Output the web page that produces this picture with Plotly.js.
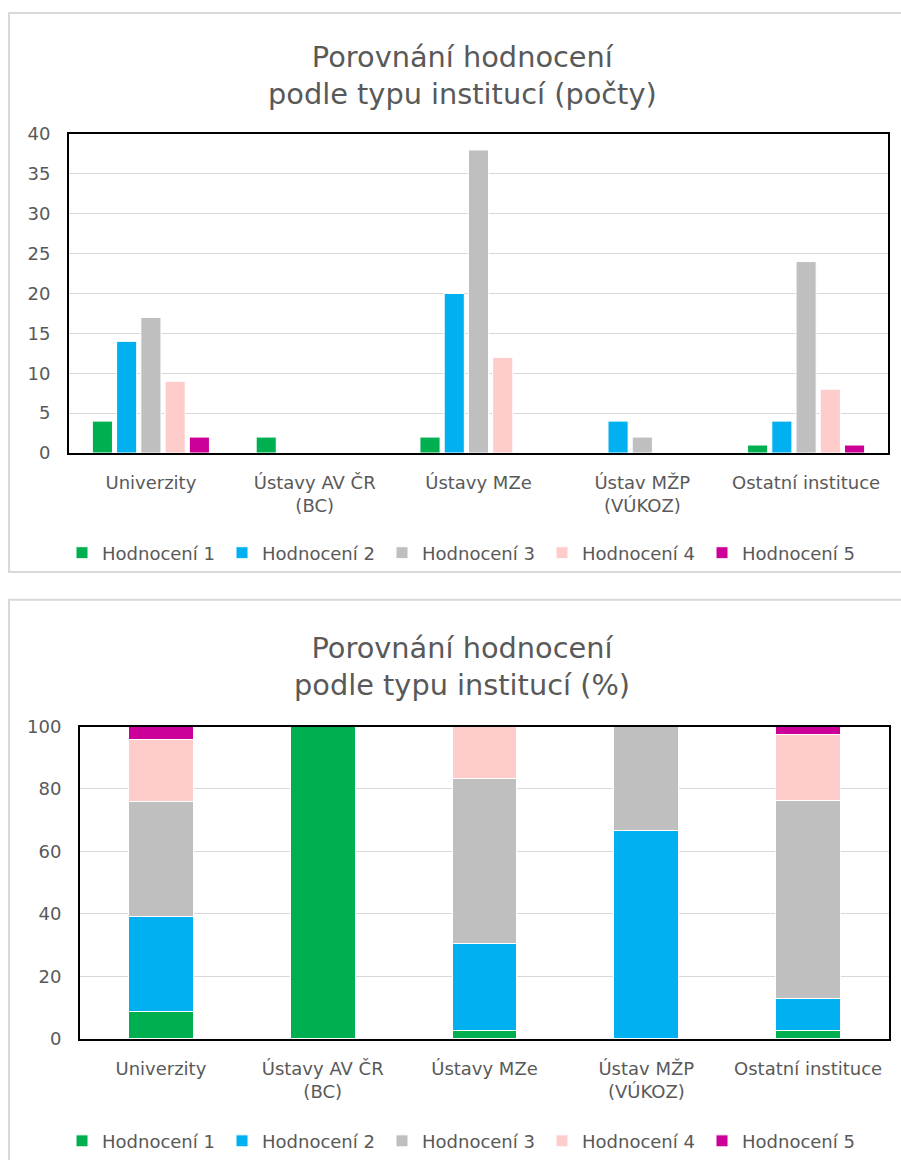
<!DOCTYPE html>
<html>
<head>
<meta charset="utf-8">
<script src="https://cdn.plot.ly/plotly-3.0.1.min.js"></script>
<style>
html,body{margin:0;padding:0;background:#fff;}
#top{width:901px;height:586px;}
#bottom{width:901px;height:574px;}
</style>
</head>
<body>
<div id="top"></div>
<div id="bottom"></div>
<script>
// Categories (institution types)
var categories = ["Univerzity", "Ústavy AV ČR<br>(BC)", "Ústavy MZe", "Ústav MŽP<br>(VÚKOZ)", "Ostatní instituce"];
var seriesNames = ["Hodnocení 1", "Hodnocení 2", "Hodnocení 3", "Hodnocení 4", "Hodnocení 5"];

// Counts (top chart)
var countH1 = [4, 2, 2, 0, 1];
var countH2 = [14, 0, 20, 4, 4];
var countH3 = [17, 0, 38, 2, 24];
var countH4 = [9, 0, 12, 0, 8];
var countH5 = [2, 0, 0, 0, 1];

// Percentages (bottom chart)
var pctH1 = [8.7, 100, 2.8, 0, 2.6];
var pctH2 = [30.4, 0, 27.8, 66.7, 10.5];
var pctH3 = [37.0, 0, 52.8, 33.3, 63.2];
var pctH4 = [19.6, 0, 16.6, 0, 21.1];
var pctH5 = [4.3, 0, 0, 0, 2.6];

// Axis ticks
var countTicks = [0, 5, 10, 15, 20, 25, 30, 35, 40];
var pctTicks = [0, 20, 40, 60, 80, 100];

var colors = ["#00B050", "#00B0F0", "#BFBFBF", "#FFCCCC", "#CC0099"];
var counts = [countH1, countH2, countH3, countH4, countH5];
var pcts = [pctH1, pctH2, pctH3, pctH4, pctH5];

var W = 901;
var FONT = "DejaVu Sans, sans-serif";
var GREY = "#595959";

function makeTraces(vals) {
  var t = [];
  for (var i = 0; i < vals.length; i++) {
    t.push({
      type: "bar", name: seriesNames[i], x: categories, y: vals[i],
      marker: {color: colors[i], line: {color: "#ffffff", width: 1}},
      hoverinfo: "x+y+name"
    });
  }
  return t;
}

function makeLayout(H, opts) {
  function px(x){ return x / W; }
  function py(y){ return 1 - y / H; }
  var axisCommon = {
    showline: true, mirror: true, linecolor: "#000000", linewidth: 2,
    tickfont: {family: FONT, size: 18, color: GREY}, fixedrange: true
  };
  var shapes = [{
    type: "rect", xref: "paper", yref: "paper",
    x0: px(9), x1: 1.02, y0: py(opts.frameBottom), y1: py(opts.frameTop),
    line: {color: "#D9D9D9", width: 2}, fillcolor: "rgba(0,0,0,0)", layer: "below"
  }];
  return {
    width: W, height: H,
    margin: {l: 0, r: 0, t: 0, b: 0},
    paper_bgcolor: "#ffffff", plot_bgcolor: "#ffffff",
    barmode: opts.barmode, bargap: opts.bargap, bargroupgap: opts.bargroupgap,
    showlegend: true,
    font: {family: FONT, color: GREY},
    annotations: [{
      text: opts.title,
      font: {family: FONT, size: 28.8, color: GREY},
      xref: "paper", yref: "paper", x: px(462), xanchor: "center",
      y: py(opts.titleTop), yanchor: "top", showarrow: false
    }],
    xaxis: Object.assign({}, axisCommon, {
      domain: [px(opts.plotL), px(opts.plotR)], type: "category",
      ticks: "outside", ticklen: 12, tickcolor: "rgba(0,0,0,0)", showgrid: false
    }),
    yaxis: Object.assign({}, axisCommon, {
      domain: [py(opts.plotB), py(opts.plotT)],
      range: opts.range, tickvals: opts.ticks,
      ticks: "outside", ticklen: 13, tickcolor: "rgba(0,0,0,0)",
      showgrid: true, gridcolor: "#D9D9D9", gridwidth: 1, zeroline: false
    }),
    legend: {
      orientation: "h", x: px(62), xanchor: "left", y: py(opts.legendY), yanchor: "middle",
      font: {family: FONT, size: 18, color: GREY},
      entrywidth: 115, entrywidthmode: "pixels", traceorder: "normal",
      bgcolor: "rgba(0,0,0,0)"
    },
    shapes: shapes
  };
}

var cfg = {displayModeBar: false, staticPlot: true};

Plotly.newPlot("top", makeTraces(counts), makeLayout(586, {
  title: "Porovnání hodnocení<br>podle typu institucí (počty)",
  barmode: "group", bargap: 0.26, bargroupgap: 0.17,
  frameTop: 13, frameBottom: 572, titleTop: 38,
  plotL: 69, plotR: 888, plotT: 134, plotB: 453,
  range: [0, 40], ticks: countTicks, legendY: 553
}), cfg);

Plotly.newPlot("bottom", makeTraces(pcts), makeLayout(574, {
  title: "Porovnání hodnocení<br>podle typu institucí (%)",
  barmode: "stack", bargap: 0.6, bargroupgap: 0,
  frameTop: 14, frameBottom: 590, titleTop: 44,
  plotL: 80, plotR: 889, plotT: 143, plotB: 461,
  range: [0, 100], ticks: pctTicks, legendY: 565
}), cfg);
</script>
</body>
</html>
